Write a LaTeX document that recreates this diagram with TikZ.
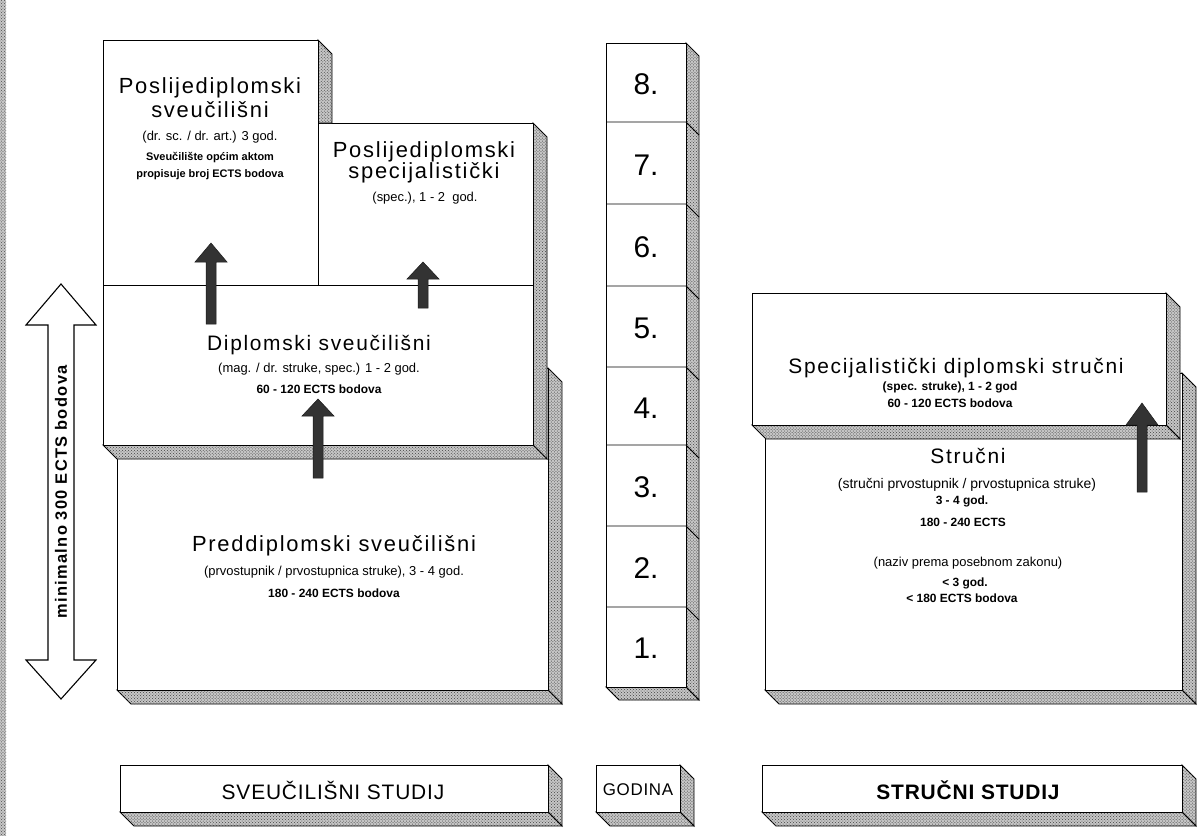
\documentclass[tikz,border=0pt]{standalone}
\usepackage{fontspec}
\usetikzlibrary{patterns}
\setmainfont{Liberation Sans}
\newfontfamily\spacedfont[LetterSpace=8]{Liberation Sans}
\newfontfamily\widefont[LetterSpace=4]{Liberation Sans}

\tikzset{
  face/.style={draw=black, line width=0.9bp, fill=white},
  side/.style={draw=black, line width=0.9bp, fill=gray!45,
    postaction={pattern=crosshatch dots, pattern color=black!75}},
  blk/.style={fill=black!80, draw=black!90, line width=0.5bp},
  hollow/.style={draw=black, line width=1.1bp, fill=white},
  title/.style={font=\spacedfont\fontsize{#1}{#1}\selectfont, inner sep=0},
  title/.default=21,
  sub/.style={font=\fontsize{#1}{#1}\selectfont, inner sep=0},
  sub/.default=13,
  subb/.style={font=\fontsize{#1}{#1}\selectfont\bfseries, inner sep=0},
  subb/.default=12,
  num/.style={font=\fontsize{30}{30}\selectfont, inner sep=0},
  lab/.style={font=\widefont\fontsize{#1}{#1}\selectfont, inner sep=0},
  lab/.default=21,
  labb/.style={font=\widefont\fontsize{21}{21}\selectfont\bfseries, inner sep=0},
  rot/.style={font=\spacedfont\fontsize{16.5}{18}\selectfont\bfseries, inner sep=0, rotate=90},
}

% 3D box: x1, y1, x2, y2 (pixel coordinates, y downwards)
\newcommand\tdbox[4]{%
  \path[side] (#3,#2) -- ++(14,14) -- (#3+14,#4+14) -- (#3,#4) -- cycle;
  \path[side] (#1,#4) -- (#3,#4) -- (#3+14,#4+14) -- (#1+14,#4+14) -- cycle;
  \path[face] (#1,#2) rectangle (#3,#4);
}
% dark block arrow: centre x, tip y, head base y, tail y
\newcommand\uparr[4]{%
  \path[blk] (#1,#2) -- (#1+16,#3) -- (#1+5,#3) -- (#1+5,#4) -- (#1-5,#4)
    -- (#1-5,#3) -- (#1-16,#3) -- cycle;
}

\begin{document}
\begin{tikzpicture}[x=1bp, y=-1bp]
\useasboundingbox (0,0) rectangle (1197,836);
\fill[white] (0,0) rectangle (1197,836);
\fill[gray!45] (0,0) rectangle (6,836);
\fill[pattern=crosshatch dots, pattern color=black!70] (0,0) rectangle (6,836);

% ---------- left group ----------
\tdbox{117}{368}{548}{690}
% Diplomski + specijalisticki share right strip
\path[side] (533,123) -- (547,137) -- (547,459) -- (533,445) -- cycle;
\path[side] (103,445) -- (533,445) -- (547,459) -- (117,459) -- cycle;
\path[face] (103,285) rectangle (533,445);
\path[face] (318,123) rectangle (533,285);
\path[side] (318,40) -- (332,54) -- (332,123) -- (318,123) -- cycle;
\path[face] (103,40) rectangle (318,285);

\node[title=22] (ps1) at (210,88) {Poslijediplomski};
\node[title=22] (ps2) at (210,110) {sveučilišni};
\node[sub]   (ps3) at (210,137) {(dr. sc. / dr. art.) 3 god.};
\node[subb=11]  (ps4) at (210,158) {Sveučilište općim aktom};
\node[subb=11]  (ps5) at (210,175) {propisuje broj ECTS bodova};

\node[title=22] (sp1) at (424,152) {Poslijediplomski};
\node[title=22] (sp2) at (424,173) {specijalistički};
\node[sub]   (sp3) at (425,198) {(spec.), 1 - 2 \ god.};

\node[title] (d1) at (319,345) {Diplomski sveučilišni};
\node[sub]   (d2) at (319,369) {(mag. / dr. struke, spec.) 1 - 2 god.};
\node[subb]  (d3) at (319,389) {60 - 120 ECTS bodova};

\node[title=22] (p1) at (334,546) {Preddiplomski sveučilišni};
\node[sub]   (p2) at (334,572) {(prvostupnik / prvostupnica struke), 3 - 4 god.};
\node[subb]  (p3) at (334,593) {180 - 240 ECTS bodova};

\uparr{211}{243}{262}{324}
\uparr{423}{262}{279}{308}
\uparr{318}{399}{416}{478}

% hollow double arrow
\path[hollow] (61,284) -- (96,325) -- (74,325) -- (74,660) -- (96,660) -- (61,699)
  -- (26,660) -- (48,660) -- (48,325) -- (26,325) -- cycle;
\node[rot] (min) at (61,492) {minimalno 300 ECTS bodova};

% ---------- year column ----------
\path[side] (686,43) -- (699,56) -- (699,700) -- (686,687) -- cycle;
\path[side] (606,687) -- (686,687) -- (699,700) -- (619,700) -- cycle;
\path[face] (606,43) rectangle (686,687);
\foreach \yy in {122,204,286,367,445,526,607}{
  \draw[line width=0.9bp] (606,\yy) -- (686,\yy) -- (699,\yy+13);
}
\node[num] (n8) at (646,84) {8.};
\node[num] (n7) at (646,165) {7.};
\node[num] (n6) at (646,247) {6.};
\node[num] (n5) at (646,328) {5.};
\node[num] (n4) at (646,408) {4.};
\node[num] (n3) at (646,487) {3.};
\node[num] (n2) at (646,568) {2.};
\node[num] (n1) at (646,648) {1.};

% ---------- right group ----------
\tdbox{765}{373}{1182}{690}
\tdbox{752}{293}{1166}{425}

\node[title] (s1) at (956,368) {Specijalistički diplomski stručni};
\node[subb]  (s2) at (950,387) {(spec. struke), 1 - 2 god};
\node[subb]  (s3) at (950,403) {60 - 120 ECTS bodova};

\node[title] (r1) at (968,456) {Stručni};
\node[sub=14]   (r2) at (967,485) {(stručni prvostupnik / prvostupnica struke)};
\node[subb]  (r3) at (962,501) {3 - 4 god.};
\node[subb]  (r4) at (963,522) {180 - 240 ECTS};
\node[sub]   (r5) at (968,563) {(naziv prema posebnom zakonu)};
\node[subb]  (r6) at (965,583) {< 3 god.};
\node[subb]  (r7) at (962,598) {< 180 ECTS bodova};

\uparr{1142}{403}{425}{492}

% ---------- bottom labels ----------
\tdbox{120}{765}{548}{812}
\tdbox{596}{765}{680}{812}
\tdbox{762}{765}{1182}{812}
\node[lab]  (L1) at (333,790) {SVEUČILIŠNI STUDIJ};
\node[lab=17] (L2) at (638,790) {GODINA};
\node[labb] (L3) at (968,790) {STRUČNI STUDIJ};
\end{tikzpicture}
\end{document}
